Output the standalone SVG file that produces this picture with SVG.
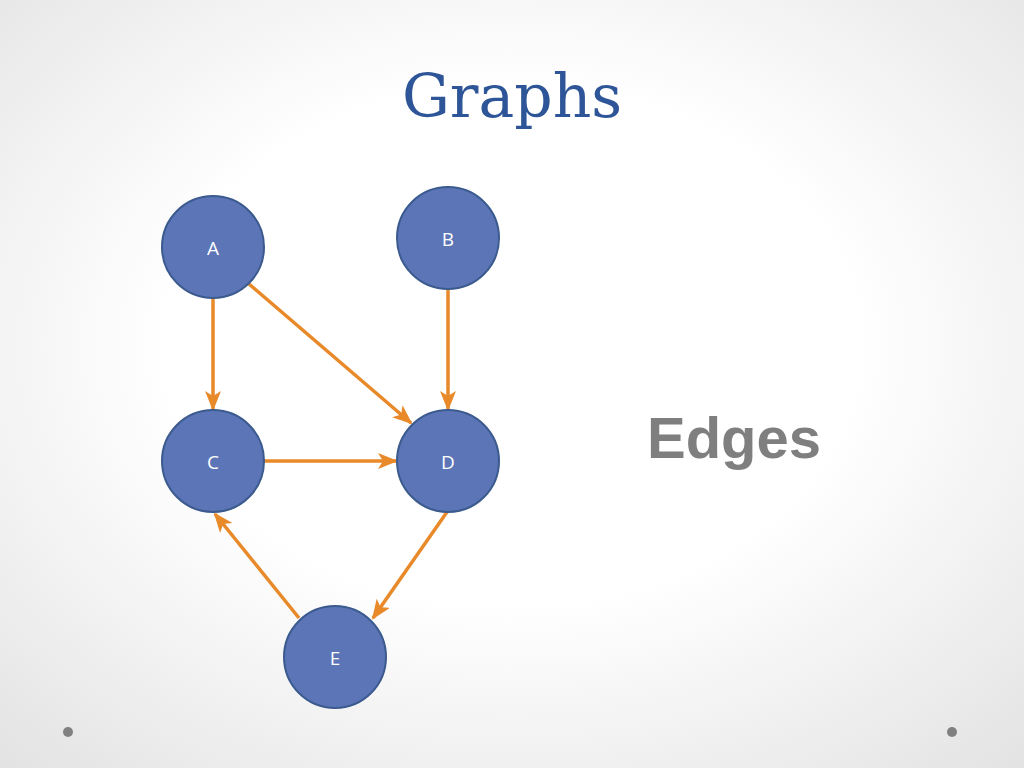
<svg xmlns="http://www.w3.org/2000/svg" width="1024" height="768" viewBox="0 0 1024 768">
<defs>
<radialGradient id="bg" cx="0.5" cy="0.45" r="0.75">
<stop offset="0.45" stop-color="#ffffff"/><stop offset="1" stop-color="#e2e2e2"/>
</radialGradient>
<marker id="ah" viewBox="0 0 20 16" refX="18" refY="8" markerWidth="20" markerHeight="16" markerUnits="userSpaceOnUse" orient="auto">
<path d="M0,0 L20,8 L0,16 L5,8 Z" fill="#E8892A"/>
</marker>
<style>
.n{fill:#5B75B6;stroke:#3B5A8E;stroke-width:2}
.t{font-family:"Open Sans","Liberation Sans",sans-serif;font-size:19px;fill:#fff;text-anchor:middle}
.e{stroke:#E8892A;stroke-width:3.5;fill:none;marker-end:url(#ah)}
</style>
</defs>
<rect width="1024" height="768" fill="url(#bg)"/>
<text x="512" y="117" font-family="'DejaVu Serif',serif" font-size="60" fill="#2E5597" text-anchor="middle">Graphs</text>
<text x="734" y="458" font-family="'Liberation Sans',sans-serif" font-weight="bold" font-size="58" fill="#7F7F7F" text-anchor="middle">Edges</text>
<circle cx="68" cy="732" r="5" fill="#808080"/>
<circle cx="952" cy="732" r="5" fill="#808080"/>
<g id="edges">
<line class="e" x1="213" y1="299" x2="213" y2="409"/>
<line class="e" x1="249" y1="284" x2="411" y2="423"/>
<line class="e" x1="448" y1="290" x2="448" y2="409"/>
<line class="e" x1="264" y1="461" x2="396" y2="461"/>
<line class="e" x1="447" y1="512" x2="373" y2="618"/>
<line class="e" x1="299" y1="618" x2="215" y2="514"/>
</g>
<g id="A"><circle class="n" cx="213" cy="247" r="51"/><text class="t" x="213" y="255">A</text></g>
<g id="B"><circle class="n" cx="448" cy="238" r="51"/><text class="t" x="448" y="246">B</text></g>
<g id="C"><circle class="n" cx="213" cy="461" r="51"/><text class="t" x="213" y="469">C</text></g>
<g id="D"><circle class="n" cx="448" cy="461" r="51"/><text class="t" x="448" y="469">D</text></g>
<g id="E"><circle class="n" cx="335" cy="657" r="51"/><text class="t" x="335" y="665">E</text></g>
</svg>
